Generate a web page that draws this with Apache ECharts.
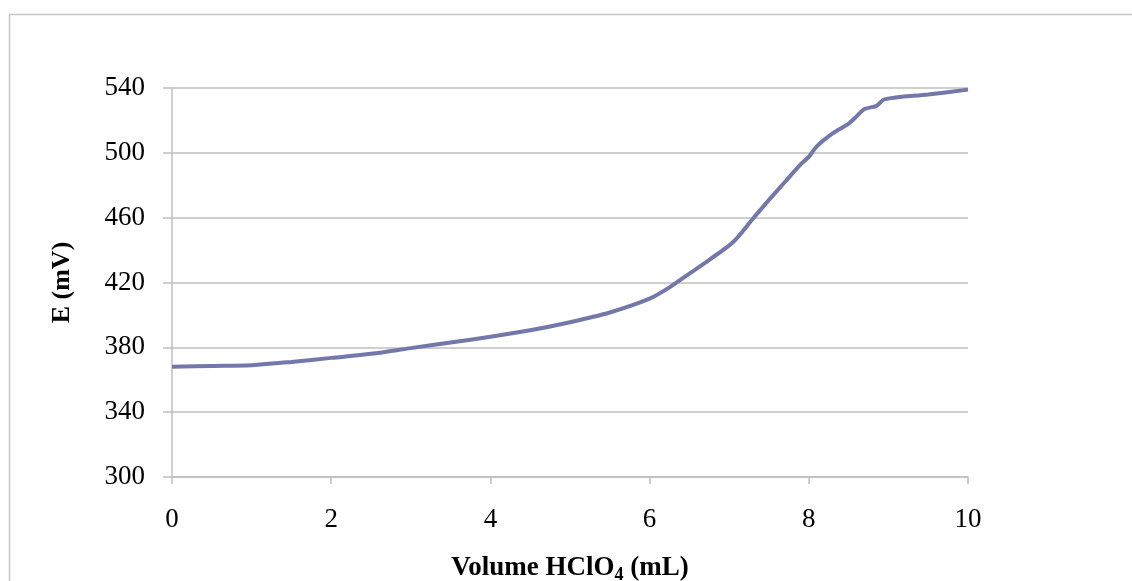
<!DOCTYPE html>
<html>
<head>
<meta charset="utf-8">
<script src="https://cdn.jsdelivr.net/npm/echarts@6/dist/echarts.min.js"></script>
<style>
  html, body { margin: 0; padding: 0; background: #fff; }
  #chart { width: 1132px; height: 581px; }
</style>
</head>
<body>
<div id="chart"></div>
<script>
// Potentiometric titration: volume of HClO4 added (mL) vs. electrode potential (mV)
const volumeML = [0, 0.5, 1, 1.5, 2, 2.5, 3, 3.5, 4, 4.5, 5, 5.5, 6, 6.25, 6.5, 6.75, 7.05, 7.3, 7.5, 7.7, 7.9, 8.0, 8.1, 8.3, 8.5, 8.6, 8.7, 8.85, 8.95, 9.5, 10];
const potentialMV = [368, 368.5, 369, 371, 373.5, 376, 379.5, 383, 386.5, 390.5, 395.5, 401.5, 410, 417, 425.5, 434, 445, 459.5, 471, 482, 493, 497.5, 504, 512, 518, 522.5, 527, 529, 533, 536, 539];
const xTicks = [0, 2, 4, 6, 8, 10];
const yTicks = [300, 340, 380, 420, 460, 500, 540];

const serif = '"Liberation Serif", "DejaVu Serif", serif';
const gridGray = '#bfbfbf';
const lineColor = '#7377aa';

const chart = echarts.init(document.getElementById('chart'), null, { renderer: 'canvas' });
chart.setOption({
  animation: false,
  backgroundColor: '#ffffff',
  graphic: [{
    type: 'rect',
    shape: { x: 9.5, y: 14.5, width: 1300, height: 700 },
    style: { fill: 'none', stroke: '#c8c8c8', lineWidth: 1.5 },
    silent: true
  }],
  grid: { left: 172, right: 164, top: 88, bottom: 104, containLabel: false, outerBoundsMode: 'none' },
  xAxis: {
    type: 'value',
    min: xTicks[0],
    max: xTicks[xTicks.length - 1],
    interval: 2,
    name: '{a|Volume HClO}{s|4}{a| (mL)}',
    nameLocation: 'middle',
    nameGap: 75,
    nameTextStyle: {
      rich: {
        a: { fontFamily: serif, fontSize: 27, fontWeight: 'bold', color: '#000' },
        s: { fontFamily: serif, fontSize: 18, fontWeight: 'bold', color: '#000', padding: [14, 0, 0, 0] }
      }
    },
    axisLine: { show: true, lineStyle: { color: gridGray, width: 1.5 } },
    axisTick: { show: true, inside: false, length: 7, lineStyle: { color: gridGray, width: 1.5 } },
    axisLabel: {
      margin: 29, fontFamily: serif, fontSize: 27, color: '#000',
      formatter: v => (xTicks.includes(v) ? String(v) : '')
    },
    splitLine: { show: false }
  },
  yAxis: {
    type: 'value',
    min: yTicks[0],
    max: yTicks[yTicks.length - 1],
    interval: 40,
    name: 'E (mV)',
    nameLocation: 'middle',
    nameRotate: 90,
    nameGap: 97,
    nameTextStyle: { fontFamily: serif, fontSize: 26, fontWeight: 'bold', color: '#000' },
    axisLine: { show: true, onZero: false, lineStyle: { color: gridGray, width: 1.5 } },
    axisTick: { show: true, inside: false, length: 9, lineStyle: { color: gridGray, width: 1.5 } },
    axisLabel: {
      margin: 27, fontFamily: serif, fontSize: 27, color: '#000',
      formatter: v => (yTicks.includes(v) ? String(v) : '')
    },
    splitLine: { show: true, lineStyle: { color: gridGray, width: 1.5 } }
  },
  series: [{
    type: 'line',
    data: volumeML.map((v, i) => [v, potentialMV[i]]),
    smooth: 0.3,
    showSymbol: false,
    lineStyle: { color: lineColor, width: 4 },
    itemStyle: { color: lineColor }
  }]
});
</script>
</body>
</html>
